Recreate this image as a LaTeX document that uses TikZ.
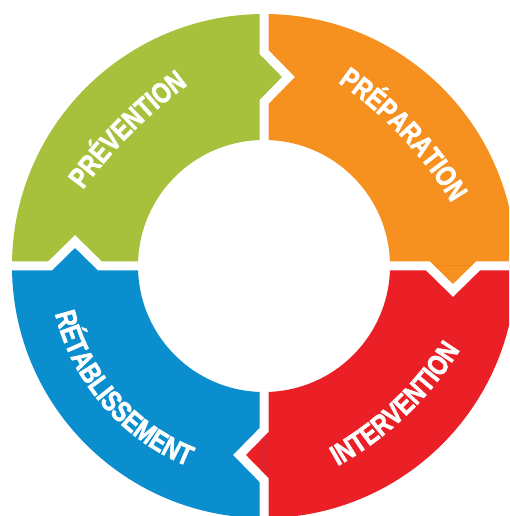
\documentclass[tikz,border=0pt]{standalone}
\usepackage{fontspec}
\newfontfamily\ringfam{Liberation Sans}[UprightFont={* Bold},FakeStretch=0.79,FakeBold=2]
\newcommand\ringfnt{\ringfam\fontsize{29pt}{32pt}\selectfont}
\usetikzlibrary{calc,decorations.text}
\definecolor{cgreen}{RGB}{168,193,60}
\definecolor{corange}{RGB}{246,144,30}
\definecolor{cred}{RGB}{235,31,38}
\definecolor{cblue}{RGB}{11,142,206}
\begin{document}
\begin{tikzpicture}[x=1pt,y=1pt,
  gapline/.style={white,line width=9pt,line join=miter},
  ringtext/.style={decorate,decoration={text along path,text align=center,text color=white,text={|\ringfnt|#1}}}]
\useasboundingbox (-264,-250) rectangle (245,266);
\clip (-264,-250) rectangle (245,266);
% wedges
\foreach \c/\r in {cgreen/0,corange/-90,cred/-180,cblue/-270}{
  \fill[\c,rotate=\r] (180:252) arc[start angle=180,end angle=90,radius=252]
    -- (90:126) arc[start angle=90,end angle=180,radius=126] -- cycle;
}
% arrow heads
\foreach \c/\r in {cgreen/0,corange/-90,cred/-180,cblue/-270}{
  \fill[\c,rotate=\r] (0,214) -- (24.5,189) -- (0,164) -- cycle;
}
% white gaps
\foreach \r in {0,-90,-180,-270}{
  \draw[gapline,rotate=\r] (0,262) -- (0,214) -- (24.5,189) -- (0,164) -- (0,116);
}
% labels
\path[ringtext=PRÉVENTION] ($(214.3,-214.3)+(155:490.5)$) arc[start angle=155,end angle=115,radius=490.5];
\path[ringtext=PRÉPARATION] ($(-147.0,-138.5)+(68.3:390.5)$) arc[start angle=68.3,end angle=18.3,radius=390.5];
\path[ringtext=INTERVENTION] ($(-92.2,97.2)+(-74.5:340.5)$) arc[start angle=-74.5,end angle=-18.5,radius=340.5];
\path[ringtext=RÉTABLISSEMENT] ($(5.3,4.6)+(176:220.5)$) arc[start angle=176,end angle=266,radius=220.5];
\end{tikzpicture}
\end{document}
